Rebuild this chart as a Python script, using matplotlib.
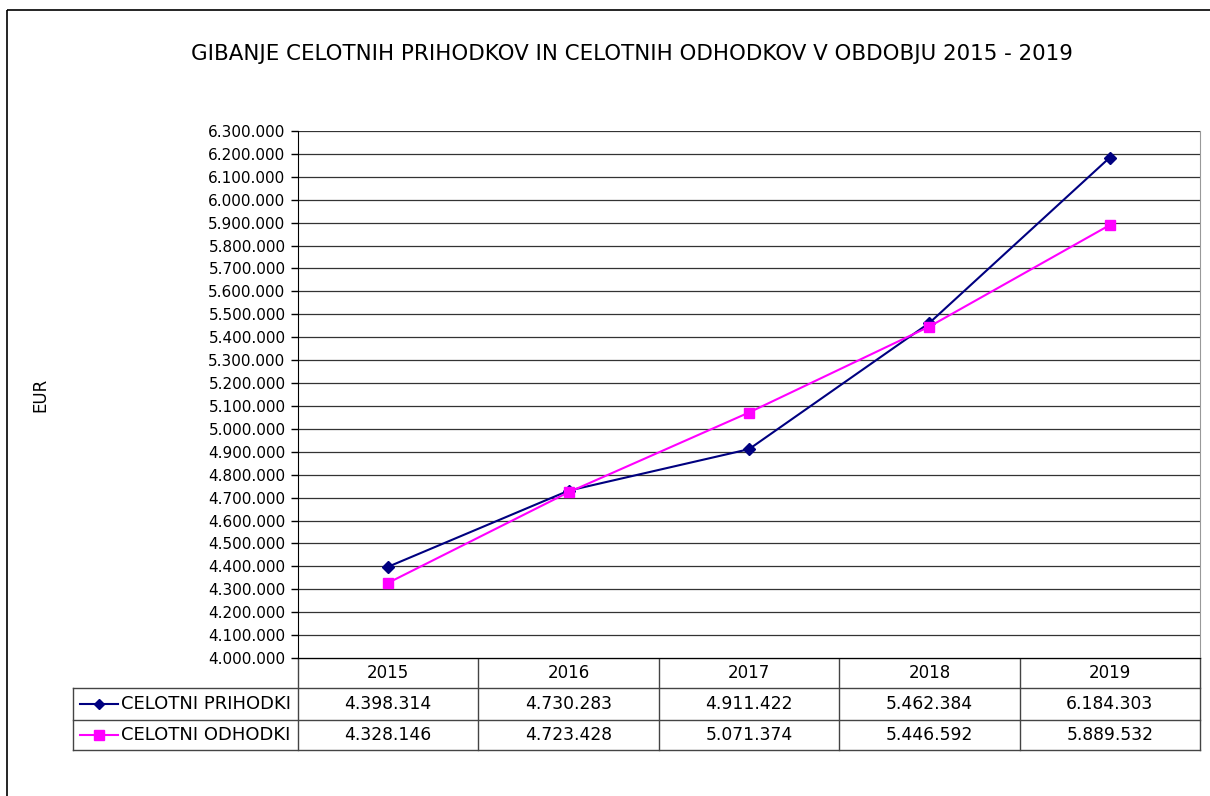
import matplotlib.pyplot as plt
from matplotlib.patches import Rectangle
from matplotlib.lines import Line2D
from matplotlib.ticker import FuncFormatter

# podatki
leta = ['2015', '2016', '2017', '2018', '2019']
prihodki = [4398314, 4730283, 4911422, 5462384, 6184303]
odhodki = [4328146, 4723428, 5071374, 5446592, 5889532]
serije = ['CELOTNI PRIHODKI', 'CELOTNI ODHODKI']

W, H = 1210, 796
fig = plt.figure(figsize=(W / 100, H / 100), dpi=100)

def fmt(v):
    return f'{v:,.0f}'.replace(',', '.')

# glavni graf
ax = fig.add_axes([298 / W, (H - 658) / H, 902 / W, 527 / H])
x = list(range(len(leta)))
ax.plot(x, prihodki, color='#000080', lw=1.5, marker='D', ms=6, mfc='#000080', mec='#000080')
ax.plot(x, odhodki, color='#FF00FF', lw=1.5, marker='s', ms=7, mfc='#FF00FF', mec='#FF00FF')
ax.set_xlim(-0.5, len(leta) - 0.5)
ax.set_ylim(4000000, 6300000)
ax.set_yticks(range(4000000, 6300001, 100000))
ax.yaxis.set_major_formatter(FuncFormatter(lambda v, p: fmt(v)))
ax.tick_params(axis='y', labelsize=11, length=5, width=1, colors='black', pad=4)
ax.set_xticks([])
ax.grid(axis='y', color='#333333', lw=0.9)
ax.set_axisbelow(True)
ax.spines['left'].set_color('black')
ax.spines['right'].set_color('#999999')
ax.spines['top'].set_visible(False)
ax.spines['bottom'].set_color('black')

# tabela + okvir
tab = fig.add_axes([0, 0, 1, 1], zorder=-1)
tab.set_xlim(0, W)
tab.set_ylim(H, 0)
tab.axis('off')
tab.add_patch(Rectangle((7, 10), W, H, fill=False, ec='black', lw=1.2))

col_w = 902 / len(leta)
xs = [298 + col_w * i for i in range(len(leta) + 1)]
rows = [658, 688, 720, 750]
lc = '#444444'
tab.plot([298, 1200], [rows[0], rows[0]], color=lc, lw=1)
for r in rows[1:]:
    tab.plot([73, 1200], [r, r], color=lc, lw=1)
tab.plot([73, 73], [rows[1], rows[3]], color=lc, lw=1)
for xv in xs:
    tab.plot([xv, xv], [rows[0], rows[3]], color=lc, lw=1)

for i, l in enumerate(leta):
    cx = xs[i] + col_w / 2
    tab.text(cx, (rows[0] + rows[1]) / 2, l, ha='center', va='center', fontsize=12)
    tab.text(cx, (rows[1] + rows[2]) / 2, fmt(prihodki[i]), ha='center', va='center', fontsize=12.3)
    tab.text(cx, (rows[2] + rows[3]) / 2, fmt(odhodki[i]), ha='center', va='center', fontsize=12.3)

stil = [('#000080', 'D', 5), ('#FF00FF', 's', 7)]
for k, (ime, (c, m, s)) in enumerate(zip(serije, stil)):
    yc = (rows[k + 1] + rows[k + 2]) / 2
    tab.add_line(Line2D([80, 118], [yc, yc], color=c, lw=1.5))
    tab.add_line(Line2D([99], [yc], color=c, marker=m, ms=s, mfc=c, mec=c))
    tab.text(121, yc, ime, ha='left', va='center', fontsize=13)

fig.text(632 / W, 1 - 54 / H, 'GIBANJE CELOTNIH PRIHODKOV IN CELOTNIH ODHODKOV V OBDOBJU 2015 - 2019',
         ha='center', va='center', fontsize=15.4)
fig.text(40 / W, 1 - 395 / H, 'EUR', rotation=90, ha='center', va='center', fontsize=12)

fig.savefig('out.png', dpi=100)
